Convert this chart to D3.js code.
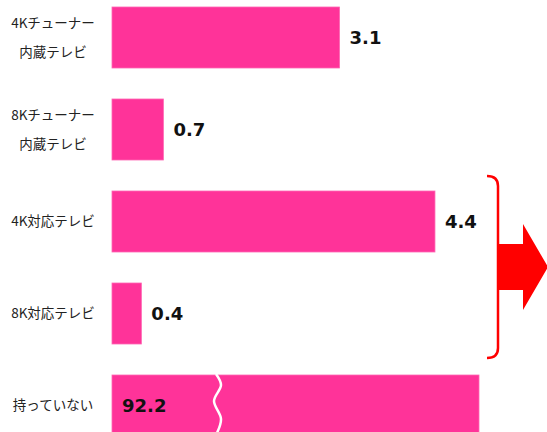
<!DOCTYPE html>
<html><head><meta charset="utf-8">
<script src="https://cdn.jsdelivr.net/npm/d3@7"></script>
<style>body{margin:0;background:#fff;overflow:hidden}</style>
</head><body>
<svg id="c" width="547" height="432"></svg>
<script>
const categories = ["4K\u30c1\u30e5\u30fc\u30ca\u30fc\n\u5185\u8535\u30c6\u30ec\u30d3", "8K\u30c1\u30e5\u30fc\u30ca\u30fc\n\u5185\u8535\u30c6\u30ec\u30d3", "4K\u5bfe\u5fdc\u30c6\u30ec\u30d3", "8K\u5bfe\u5fdc\u30c6\u30ec\u30d3", "\u6301\u3063\u3066\u3044\u306a\u3044"];
const values = [3.1, 0.7, 4.4, 0.4, 92.2];
const valueLabels = ["3.1", "0.7", "4.4", "0.4", "92.2"];
const brokenIndex = [4];
const bracketGroup = [2, 3];

const svg = d3.select("#c");
const x = d3.scaleLinear().domain([0, 5]).range([112, 479]).clamp(true);
const y = d3.scaleBand().domain(categories).range([7, 436]).paddingInner(0.337).paddingOuter(0);
const color = "#ff3399";

// bars
svg.selectAll("rect.bar").data(values).join("rect")
  .attr("class", "bar")
  .attr("x", x(0))
  .attr("y", (d, i) => y(categories[i]))
  .attr("width", d => x(d) - x(0))
  .attr("height", y.bandwidth())
  .attr("fill", color)
  .attr("stroke", "#ff66b3").attr("stroke-width", 0.8);

// category labels
categories.forEach((c, i) => {
  const lines = c.split("\n");
  const cy = y(c) + y.bandwidth() / 2;
  const t = svg.append("text")
    .attr("x", 53).attr("text-anchor", "middle")
    .attr("font-family", "'Noto Sans CJK JP', sans-serif")
    .attr("font-size", 13.5).attr("fill", "#222");
  lines.forEach((l, k) => {
    t.append("tspan").attr("x", 53)
      .attr("y", cy + (k - (lines.length - 1) / 2) * 29)
      .attr("dy", "0.35em").text(l);
  });
});

// value labels
values.forEach((v, i) => {
  const broken = brokenIndex.includes(i);
  svg.append("text")
    .attr("x", broken ? x(0) + 10 : x(v) + 10)
    .attr("y", y(categories[i]) + y.bandwidth() / 2)
    .attr("dy", "0.36em")
    .attr("font-family", "'DejaVu Sans', Verdana, sans-serif")
    .attr("font-weight", "bold").attr("font-size", 18)
    .attr("fill", "#111")
    .text(valueLabels[i]);
});

// break mark on the broken bar
brokenIndex.forEach(i => {
  const top = y(categories[i]);
  const pts = [[216, top - 1], [221, top + 10], [214, top + 26], [221, top + 44], [216, top + 60]];
  svg.append("path")
    .attr("d", d3.line().curve(d3.curveCatmullRom)(pts))
    .attr("fill", "none").attr("stroke", "#fff").attr("stroke-width", 2.5);
});

// bracket
const bTop = y(categories[bracketGroup[0]]) - 15;
const bBot = y(categories[bracketGroup[1]]) + y.bandwidth() + 14;
const bx = 498;
svg.append("path")
  .attr("d", `M487,${bTop} Q${bx},${bTop} ${bx},${bTop + 10} L${bx},${bBot - 10} Q${bx},${bBot} 487,${bBot}`)
  .attr("fill", "none").attr("stroke", "#ff0000").attr("stroke-width", 2.5);

// arrow
const ay = (bTop + bBot) / 2;
svg.append("path")
  .attr("d", `M${bx},${ay - 23} L523,${ay - 23} L523,${ay - 43} L548,${ay} L523,${ay + 43} L523,${ay + 23} L${bx},${ay + 23} Z`)
  .attr("fill", "#ff0000");
</script>
</body></html>
